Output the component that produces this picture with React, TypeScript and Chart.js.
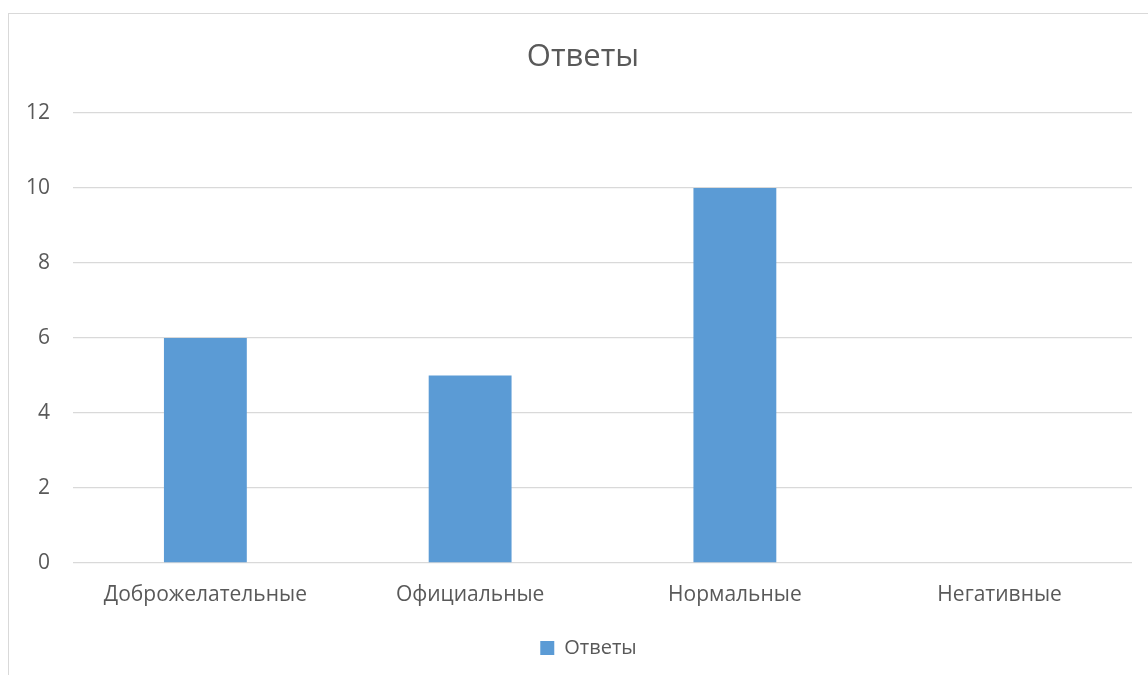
import React, { useEffect, useRef } from "react";
import { Chart, registerables } from "chart.js";

Chart.register(...registerables);

const categories = ["Доброжелательные", "Официальные", "Нормальные", "Негативные"];
const seriesName = "Ответы";
const values = [6, 5, 10, 0];
const chartTitle = "Ответы";
const yMin = 0;
const yMax = 12;
const yStep = 2;

const FONT = "'Open Sans', 'Noto Sans', sans-serif";
const TEXT = "#595959";

// nudges the title and legend horizontally so they are centred like the original
const centerShift = {
  id: "centerShift",
  afterLayout(chart: any) {
    if (chart.titleBlock) chart.titleBlock.left += 25;
    if (chart.legend) chart.legend.left += 36;
  },
};

export default function App() {
  const ref = useRef<HTMLCanvasElement | null>(null);
  useEffect(() => {
    if (!ref.current) return;
    const chart = new Chart(ref.current, {
      type: "bar",
      data: {
        labels: categories,
        datasets: [
          {
            label: seriesName,
            data: values,
            backgroundColor: "#5B9BD5",
            borderWidth: 0,
            categoryPercentage: 1,
            barPercentage: 0.313,
          },
        ],
      },
      plugins: [centerShift],
      options: {
        animation: false,
        responsive: false,
        layout: { padding: { left: 0, right: 16, top: 0, bottom: 7 } },
        plugins: {
          title: {
            display: true,
            text: chartTitle,
            color: TEXT,
            font: { family: FONT, size: 31, weight: "normal" },
            padding: { top: 24.4, bottom: 37.4 },
          },
          legend: {
            position: "bottom",
            labels: {
              color: TEXT,
              font: { family: FONT, size: 20 },
              boxWidth: 14,
              boxHeight: 14,
              padding: 10,
            },
          },
          tooltip: { enabled: false },
        },
        scales: {
          x: {
            grid: { display: false },
            border: { display: false },
            ticks: { color: TEXT, font: { family: FONT, size: 21 }, padding: 11 },
            afterFit: (s: any) => {
              s.height = 65;
            },
          },
          y: {
            min: yMin,
            max: yMax,
            ticks: { stepSize: yStep, color: TEXT, font: { family: FONT, size: 21 }, padding: 23 },
            grid: { color: "#d9d9d9", lineWidth: 1.3, drawTicks: false },
            border: { display: false },
            afterFit: (s: any) => {
              s.width = 64;
            },
          },
        },
      },
    });
    return () => chart.destroy();
  }, []);
  return (
    <div
      style={{
        position: "fixed",
        left: 8,
        top: 13,
        width: 1140,
        height: 662,
        borderTop: "1.3px solid #d9d9d9",
        borderLeft: "1.3px solid #d9d9d9",
        background: "#fff",
      }}
    >
      <canvas ref={ref} width={1139} height={661} style={{ display: "block" }} />
    </div>
  );
}
